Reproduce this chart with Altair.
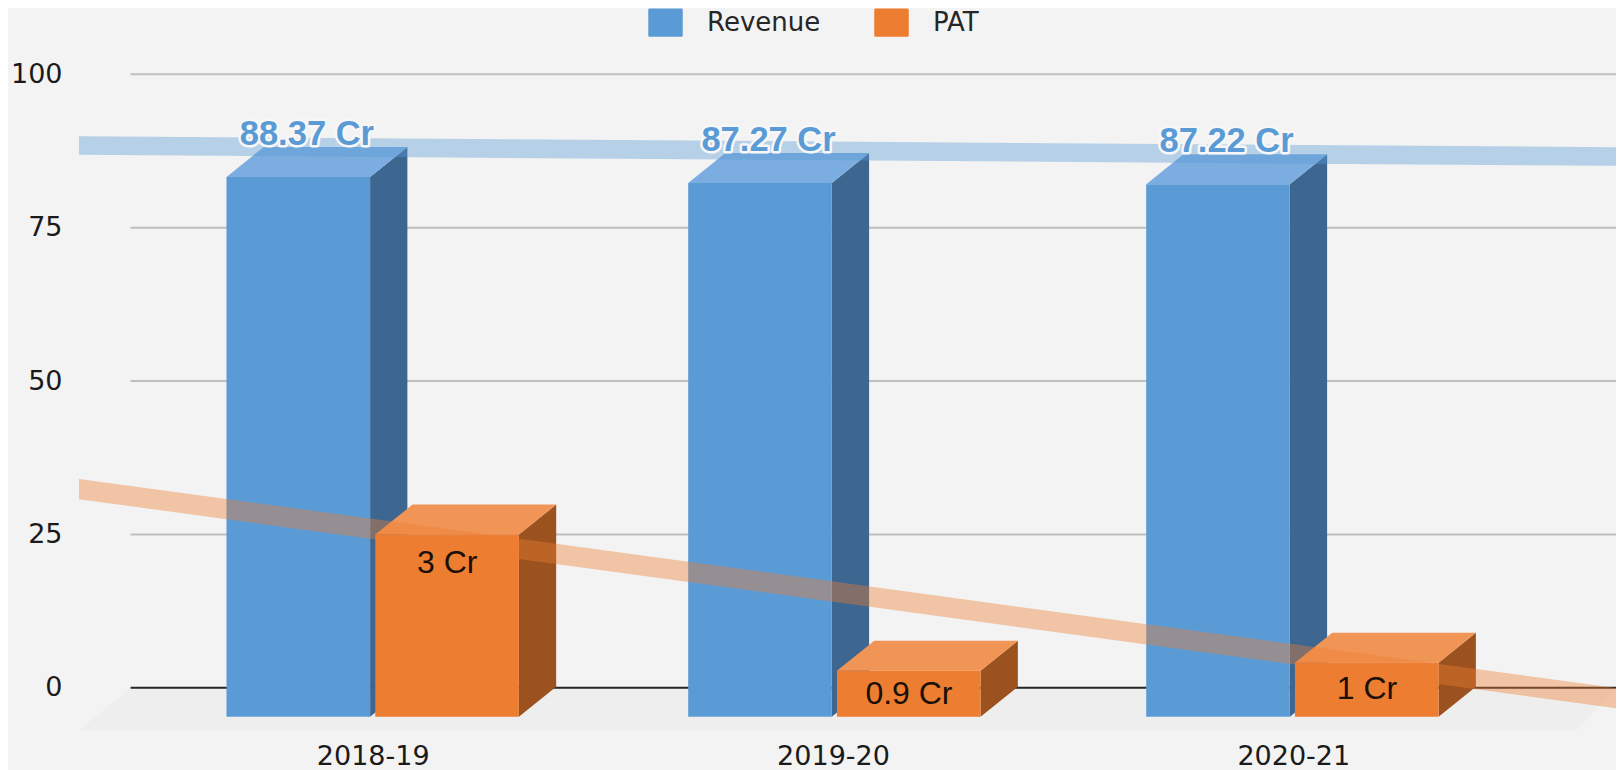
import altair as alt
import pandas as pd

categories = ["2018-19", "2019-20", "2020-21"]
series = ["Revenue", "PAT"]
revenue_drawn = [88.0, 87.0, 86.8]
pat_drawn = [29.7, 7.5, 8.8]
revenue_labels = ["88.37 Cr", "87.27 Cr", "87.22 Cr"]
pat_labels = ["3 Cr", "0.9 Cr", "1 Cr"]
pat_label_levels = [20.4, -1.0, -0.2]
y_ticks = [0, 25, 50, 75, 100]
revenue_trend = [88.4, 86.6]
pat_trend = [32.4, -1.7]
slots = [0, 1.003, 1.998]

BG = "#f3f3f3"
REV = {"front": "#5b9bd5", "side": "#3d6690", "top": "#7cade0"}
PAT = {"front": "#ed7d31", "side": "#9c521e", "top": "#f09556"}

X_MIN, X_MAX = -0.638, 2.701
Y_MIN, Y_MAX = -7.7, 105.6
BASE = -4.73
DX, DY = 0.081, 4.89
BAR_W = 0.312
GAP = 0.0056
GRID_START = -0.526

xs = alt.Scale(domain=[X_MIN, X_MAX], nice=False, zero=False)
ys = alt.Scale(domain=[Y_MIN, Y_MAX], nice=False, zero=False)

tick_expr = "[" + ",".join(f"'{c}'" for c in categories) + "][datum.value]"
axis_font = dict(labelFont="DejaVu Sans", labelFontSize=27, labelColor="#1a1a1a")
x_axis = alt.Axis(values=[0, 1, 2], labelExpr=tick_expr, grid=False, domain=False,
                  ticks=False, labelPadding=8, title=None, **axis_font)
y_axis = alt.Axis(values=y_ticks, grid=False, domain=False, ticks=False,
                  labelPadding=17, format="d", title=None, **axis_font)


def X(field="x"):
    return alt.X(f"{field}:Q", scale=xs, axis=x_axis)


def Y(field="y"):
    return alt.Y(f"{field}:Q", scale=ys, axis=y_axis, stack=False)


def area_layer(rows, color, **mark):
    return alt.Chart(pd.DataFrame(rows)).mark_area(
        color=color, orient="vertical", **mark
    ).encode(x=X(), y=Y(), y2="y2:Q")


front_rows = []
boxes = {"Revenue": [], "PAT": []}
palette = {"Revenue": REV, "PAT": PAT}
for s, rev, pat in zip(slots, revenue_drawn, pat_drawn):
    for name, height, x0 in (("Revenue", rev, s - GAP - BAR_W), ("PAT", pat, s + GAP)):
        x1 = x0 + BAR_W
        top = BASE + height
        front_rows.append(dict(series=name, x=x0, x2=x1, y=BASE, y2=top))
        boxes[name].append(area_layer([
            dict(x=x1, y=BASE, y2=top),
            dict(x=x1 + DX, y=BASE + DY, y2=top + DY),
        ], palette[name]["side"]))
        boxes[name].append(area_layer([
            dict(x=x0, y=top, y2=top),
            dict(x=x0 + DX, y=top, y2=top + DY),
            dict(x=x1, y=top, y2=top + DY),
            dict(x=x1 + DX, y=top + DY, y2=top + DY),
        ], palette[name]["top"]))
front_df = pd.DataFrame(front_rows)

floor = area_layer([
    dict(x=X_MIN, y=-6.9, y2=-6.9),
    dict(x=GRID_START, y=-6.9, y2=0),
    dict(x=2.615, y=-6.9, y2=0),
    dict(x=X_MAX, y=0, y2=0),
], "#eeeeee")
grid_df = pd.DataFrame({"y": y_ticks, "x": GRID_START, "x2": X_MAX})

grid = alt.Chart(grid_df).mark_rule(strokeWidth=2).encode(
    x=X(), x2="x2:Q", y=Y(),
    stroke=alt.condition("datum.y === 0", alt.value("#262626"), alt.value("#bfbfbf")),
)

color = alt.Color(
    "series:N",
    scale=alt.Scale(domain=series, range=[REV["front"], PAT["front"]]),
    legend=alt.Legend(
        orient="none", legendX=569, legendY=-35, direction="horizontal",
        columns=2, title=None, padding=0,
        symbolType="M-1,-0.74Q-1,-0.82,-0.92,-0.82H0.92Q1,-0.82,1,-0.74V0.74Q1,0.82,0.92,0.82H-0.92Q-1,0.82,-1,0.74Z",
        symbolSize=1190, symbolStrokeWidth=0, symbolOpacity=1,
        labelFont="DejaVu Sans", labelFontSize=26, labelColor="#262626",
        labelOffset=24, columnPadding=53,
    ),
)


def front(name):
    return alt.Chart(front_df).transform_filter(f"datum.series === '{name}'").mark_rect().encode(
        x=X(), x2="x2:Q", y=Y(), y2="y2:Q", color=color,
    )


def band(values, half, c):
    return area_layer([
        dict(x=X_MIN, y=values[0] - half, y2=values[0] + half),
        dict(x=X_MAX, y=values[1] - half, y2=values[1] + half),
    ], c, opacity=0.4)


rev_band = band(revenue_trend, 1.52, REV["front"])
pat_band = band(pat_trend, 1.65, PAT["front"])

rev_label_df = pd.DataFrame({
    "x": [s - 0.143 for s in slots],
    "y": [BASE + v + 6.9 for v in revenue_drawn],
    "t": revenue_labels,
})
pat_label_df = pd.DataFrame({
    "x": [s + 0.162 for s in slots],
    "y": pat_label_levels,
    "t": pat_labels,
})
label_font = dict(font="Liberation Sans", align="center", baseline="middle")
rev_halo = alt.Chart(rev_label_df).mark_text(
    fontSize=34.5, fontWeight="bold", color="#ffffff", stroke="#f7f7f7",
    strokeWidth=5, strokeJoin="round", **label_font
).encode(x=X(), y=Y(), text="t:N")
rev_text = alt.Chart(rev_label_df).mark_text(
    fontSize=34.5, fontWeight="bold", color=REV["front"], **label_font
).encode(x=X(), y=Y(), text="t:N")
pat_text = alt.Chart(pat_label_df).mark_text(
    fontSize=32, color="#1a1008", **label_font
).encode(x=X(), y=Y(), text="t:N")

chart = alt.layer(
    floor, grid,
    *boxes["Revenue"], front("Revenue"),
    *boxes["PAT"], front("PAT"),
    rev_band, pat_band,
    rev_halo, rev_text, pat_text,
).properties(
    width=1537, height=695,
    background=BG,
    padding={"left": 71, "top": 32, "right": 0, "bottom": 35},
    autosize=alt.AutoSizeParams(type="none"),
).configure_view(stroke=None)

chart.save("out.html", embed_options={"renderer": "svg", "actions": False})
